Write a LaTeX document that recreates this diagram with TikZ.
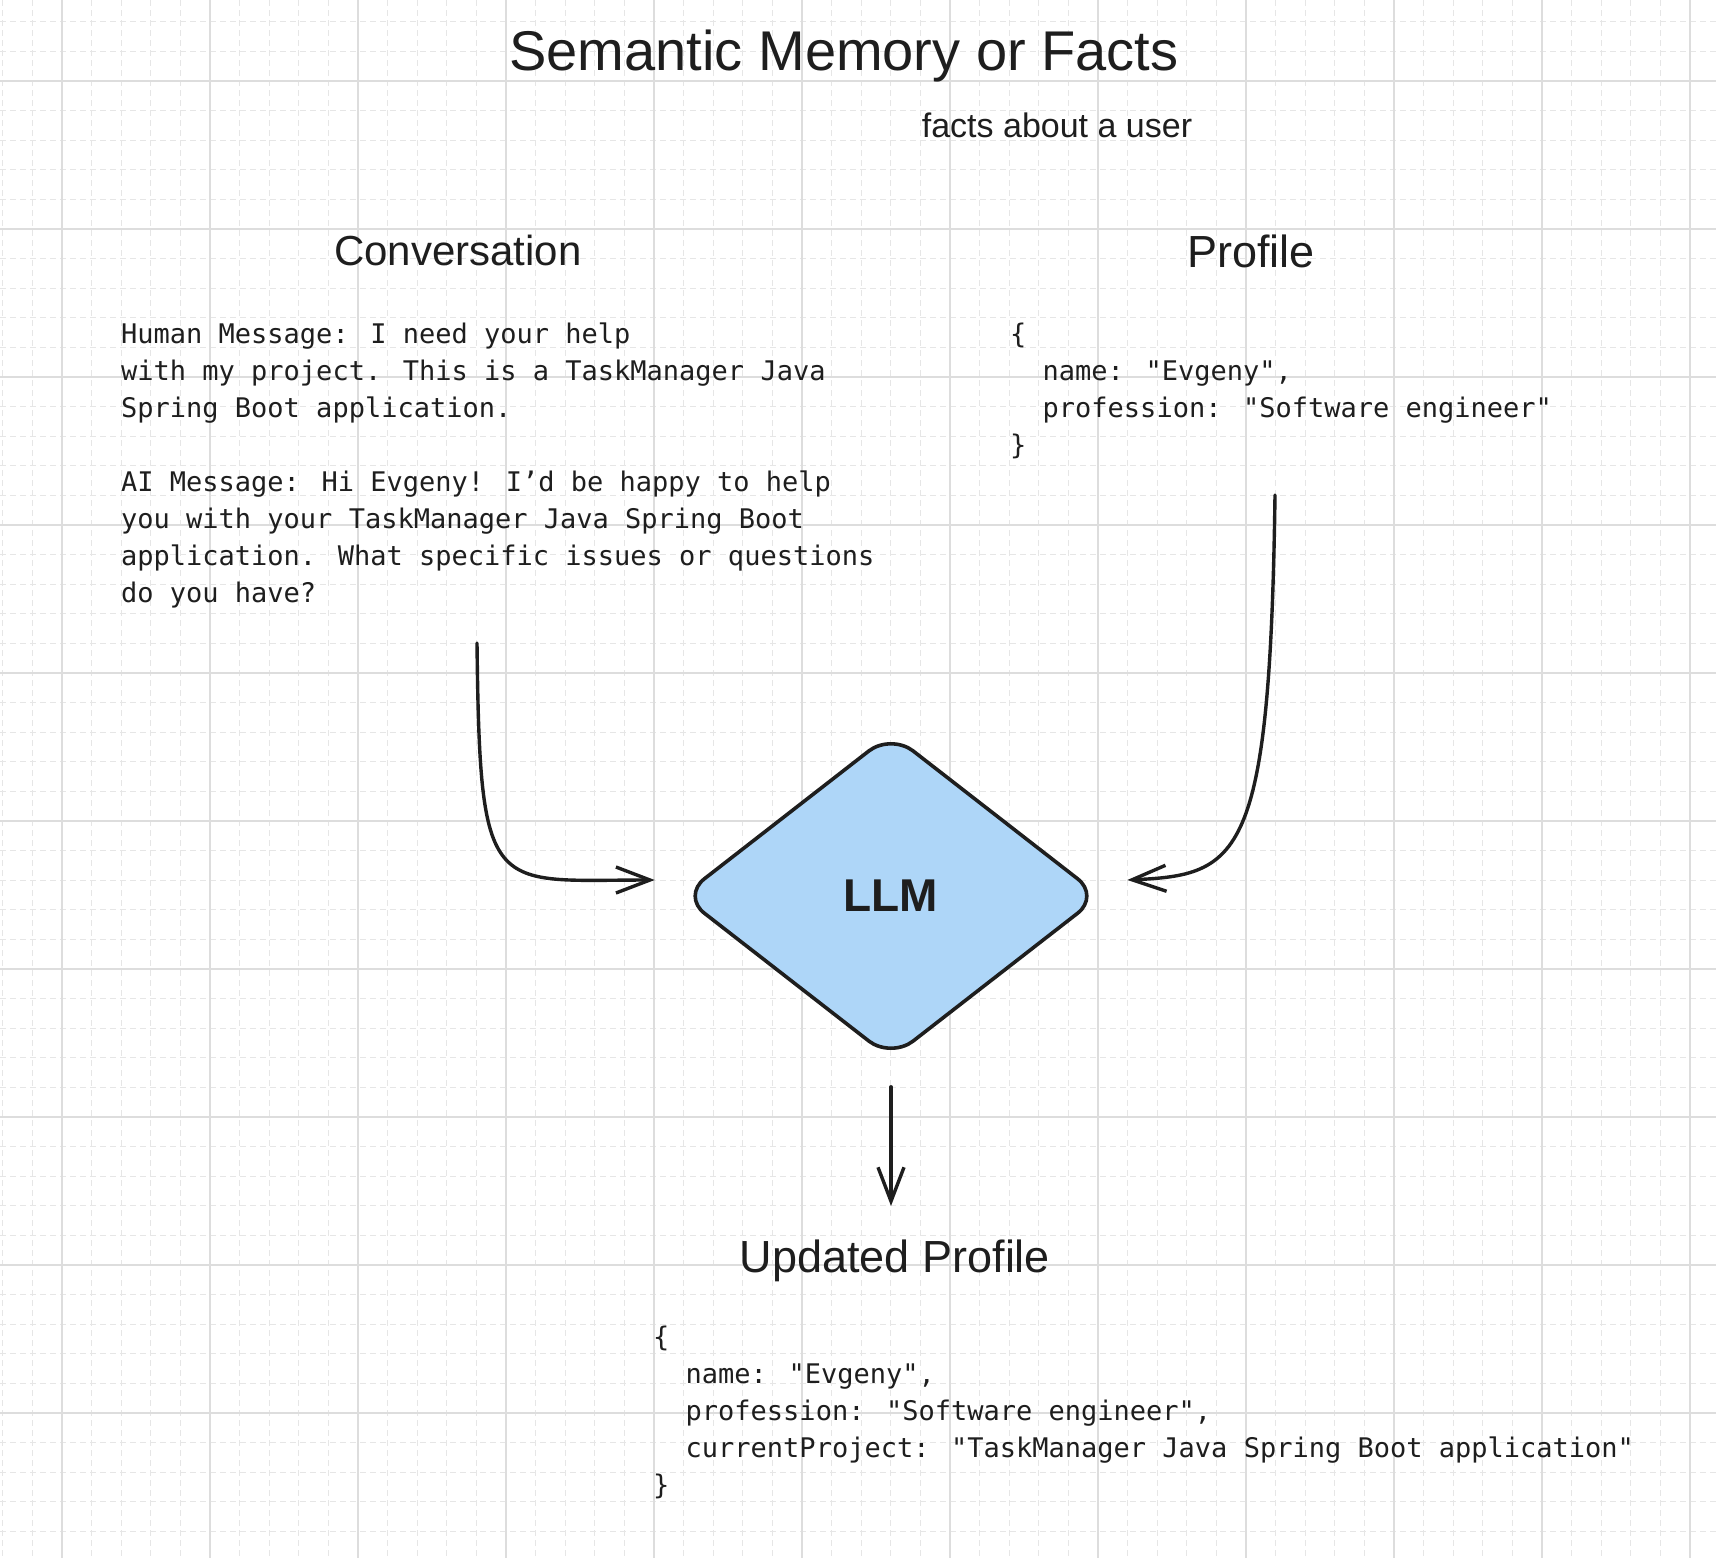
\documentclass[tikz,border=0pt]{standalone}
\usepackage{fontspec}
\setmainfont{Liberation Sans}
\newfontfamily\codefont{DejaVu Sans Mono}[Ligatures=TeXOff]
\usetikzlibrary{arrows.meta,shapes.geometric}
\definecolor{ink}{HTML}{1E1E1E}
\definecolor{majorgrid}{HTML}{DDDDDD}
\definecolor{minorgrid}{HTML}{E6E6E6}
\definecolor{llmfill}{HTML}{AED6F8}
\begin{document}
\begin{tikzpicture}[x=1pt,y=-1pt,
  heading/.style={anchor=base, inner sep=0pt, text=ink, font=\fontsize{42}{48}\selectfont},
  codeblock/.style={anchor=north west, inner sep=0pt, align=left, text=ink, font=\codefont\fontsize{27}{37}\selectfont},
  conn/.style={draw=ink, line width=3.4pt, line cap=round, line join=round, -{Straight Barb[length=34pt,width=26pt]}},
  minorline/.style={draw=minorgrid, line width=1pt, dash pattern=on 6pt off 4pt},
  majorline/.style={draw=majorgrid, line width=1.5pt},
  decision/.style={diamond, draw=ink, fill=llmfill, line width=3.6pt, inner sep=0pt, rounded corners=28pt, text=ink}
]
\useasboundingbox (0,0) rectangle (1716,1558);
\fill[white] (0,0) rectangle (1716,1558);
% grid
\foreach \x in {2.8,32.4,...,1716} \draw[minorline] (\x,0) -- (\x,1558);
\foreach \y in {21.8,51.4,...,1558} \draw[minorline] (0,\y) -- (1716,\y);
\foreach \x in {62,210,...,1716} \draw[majorline] (\x,0) -- (\x,1558);
\foreach \y in {81,229,...,1558} \draw[majorline] (0,\y) -- (1716,\y);

% titles
\node[heading, font=\fontsize{56}{60}\selectfont] (title) at (844,70) {Semantic Memory or Facts};
\node[heading, font=\fontsize{34}{40}\selectfont] (sub) at (1057,137) {facts about a user};
\node[heading] (convh) at (458,265) {Conversation};
\node[heading, font=\fontsize{45}{48}\selectfont] (profh) at (1251,267) {Profile};
\node[heading, font=\fontsize{45}{48}\selectfont] (updh) at (895,1272) {Updated Profile};

% text blocks
\node[codeblock] (conv) at (121,318) {\rule{0pt}{25pt}Human Message: I need your help\\
with my project. This is a TaskManager Java\\
Spring Boot application.\\[37pt]
AI Message: Hi Evgeny! I’d be happy to help\\
you with your TaskManager Java Spring Boot\\
application. What specific issues or questions\\
do you have?};

\node[codeblock] (prof) at (1010,318) {\rule{0pt}{25pt}\{\\
\phantom{xx}name: "Evgeny",\\
\phantom{xx}profession: "Software engineer"\\
\}};

\node[codeblock] (upd) at (653,1321) {\rule{0pt}{25pt}\{\\
\phantom{xx}name: "Evgeny",\\
\phantom{xx}profession: "Software engineer",\\
\phantom{xx}currentProject: "TaskManager Java Spring Boot application"\\
\}};

% LLM diamond
\node[decision, minimum width=419pt, minimum height=326pt, font=\bfseries\fontsize{46}{48}\selectfont] (llm) at (891,896) {LLM};

% connectors
\coordinate (a1s) at (477,643);
\coordinate (a2s) at (1275,495);
\coordinate (a3e) at (891,1206);
\draw[conn] (a1s) .. controls (480,900) and (490,880) .. ([xshift=-25pt,yshift=16pt]llm.west);
\draw[conn] (a2s) .. controls (1270,860) and (1240,875) .. ([xshift=25pt,yshift=16pt]llm.east);
\draw[conn] ([yshift=-26pt]llm.south) -- (a3e);
\end{tikzpicture}
\end{document}
